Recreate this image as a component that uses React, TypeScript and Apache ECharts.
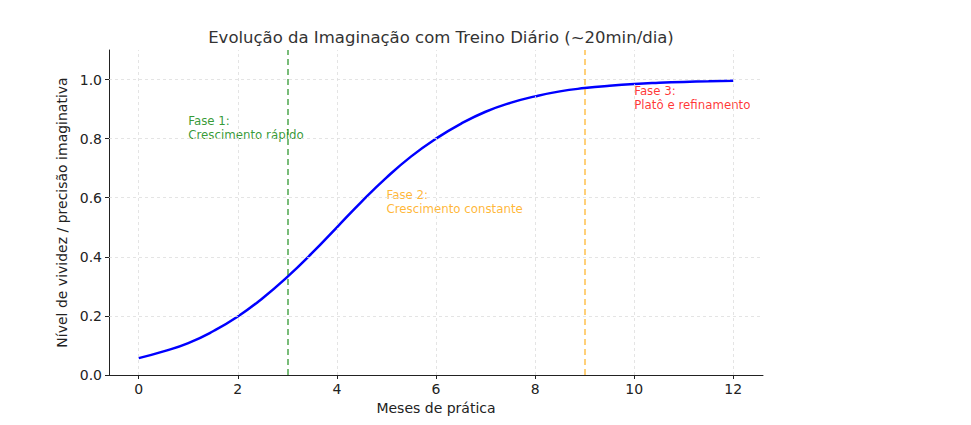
import React, { useEffect, useRef } from "react";
import * as echarts from "echarts";

const months = [0, 0.5, 1, 1.5, 2, 2.5, 3, 3.5, 4, 4.5, 5, 5.5, 6, 6.5, 7, 7.5, 8, 8.5, 9, 9.5, 10, 10.5, 11, 11.5, 12];
const vividness = [0.057, 0.08, 0.108, 0.148, 0.198, 0.26, 0.332, 0.413, 0.5, 0.587, 0.668, 0.74, 0.8, 0.85, 0.891, 0.921, 0.943, 0.96, 0.971, 0.979, 0.985, 0.989, 0.992, 0.994, 0.996];
const xTicks = [0, 2, 4, 6, 8, 10, 12];
const yTicks = [0, 0.2, 0.4, 0.6, 0.8, 1.0];
const phaseLines = [3, 9];
const phaseLineColors = ["rgba(0,128,0,0.7)", "rgba(255,165,0,0.7)"];
const annotations = [
  { x: 1, y: 0.8, text: "Fase 1:\nCrescimento rápido", color: "#008000" },
  { x: 5, y: 0.55, text: "Fase 2:\nCrescimento constante", color: "#ffa500" },
  { x: 10, y: 0.9, text: "Fase 3:\nPlatô e refinamento", color: "#ff0000" },
];

const FONT = "DejaVu Sans";

export default function App() {
  const ref = useRef<HTMLDivElement>(null);
  useEffect(() => {
    document.body.style.margin = "0";
    if (!ref.current) return;
    const chart = echarts.init(ref.current, null, { renderer: "svg" });
    const gridStyle = { color: "#dddddd", type: [3, 3], width: 0.8 };
    chart.setOption({
      animation: false,
      title: {
        text: "Evolução da Imaginação com Treino Diário (~20min/dia)",
        left: 436,
        textAlign: "center",
        top: 24,
        textStyle: { fontFamily: FONT, fontSize: 16.5, fontWeight: "normal", color: "#333333" },
      },
      grid: { left: 109, right: 208, top: 50, bottom: 50 },
      xAxis: {
        type: "value",
        min: -0.6,
        max: 12.6,
        interval: 2,
        name: "Meses de prática",
        nameLocation: "middle",
        nameGap: 23,
        nameTextStyle: { fontFamily: FONT, fontSize: 14, color: "#222" },
        axisLine: { show: true, onZero: false, lineStyle: { color: "#222", width: 1 } },
        axisTick: { show: true, length: 4, lineStyle: { color: "#222" }, customValues: xTicks },
        axisLabel: { fontFamily: FONT, fontSize: 14, color: "#222", margin: 7, customValues: xTicks },
        splitLine: { show: false },
      },
      yAxis: {
        type: "value",
        min: 0,
        max: 1.1,
        name: "Nível de vividez / precisão imaginativa",
        nameLocation: "middle",
        nameGap: 33,
        nameTextStyle: { fontFamily: FONT, fontSize: 14, color: "#222" },
        axisLine: { show: true, onZero: false, lineStyle: { color: "#222", width: 1 } },
        axisTick: { show: true, length: 4, lineStyle: { color: "#222" }, customValues: yTicks },
        axisLabel: {
          fontFamily: FONT, fontSize: 14, color: "#222", margin: 7,
          customValues: yTicks,
          formatter: (v: number) => v.toFixed(1),
        },
        splitLine: { show: false },
      },
      series: [
        {
          type: "line",
          data: [],
          silent: true,
          z: 1,
          markLine: {
            silent: true,
            symbol: "none",
            label: { show: false },
            lineStyle: gridStyle,
            data: [
              ...xTicks.map((x) => ({ xAxis: x })),
              ...yTicks.filter((y) => y > 0).map((y) => ({ yAxis: y })),
            ],
          },
        },
        {
          type: "line",
          data: months.map((m, i) => [m, vividness[i]]),
          smooth: true,
          showSymbol: false,
          lineStyle: { color: "#0000ff", width: 2.5 },
          z: 3,
          markLine: {
            silent: true,
            symbol: "none",
            label: { show: false },
            data: phaseLines.map((x, i) => ({
              xAxis: x,
              lineStyle: { color: phaseLineColors[i], type: [6, 4], width: 1.5 },
            })),
          },
        },
        {
          type: "scatter",
          symbolSize: 0,
          silent: true,
          z: 4,
          data: annotations.map((a) => ({
            value: [a.x, a.y],
            label: {
              show: true,
              position: [0, 3],
              align: "left",
              verticalAlign: "bottom",
              formatter: a.text,
              color: a.color,
              fontFamily: FONT,
              fontSize: 11.8,
              lineHeight: 14,
            },
          })),
        },
      ],
    });
    return () => chart.dispose();
  }, []);
  return <div ref={ref} style={{ width: 971, height: 425 }} />;
}
